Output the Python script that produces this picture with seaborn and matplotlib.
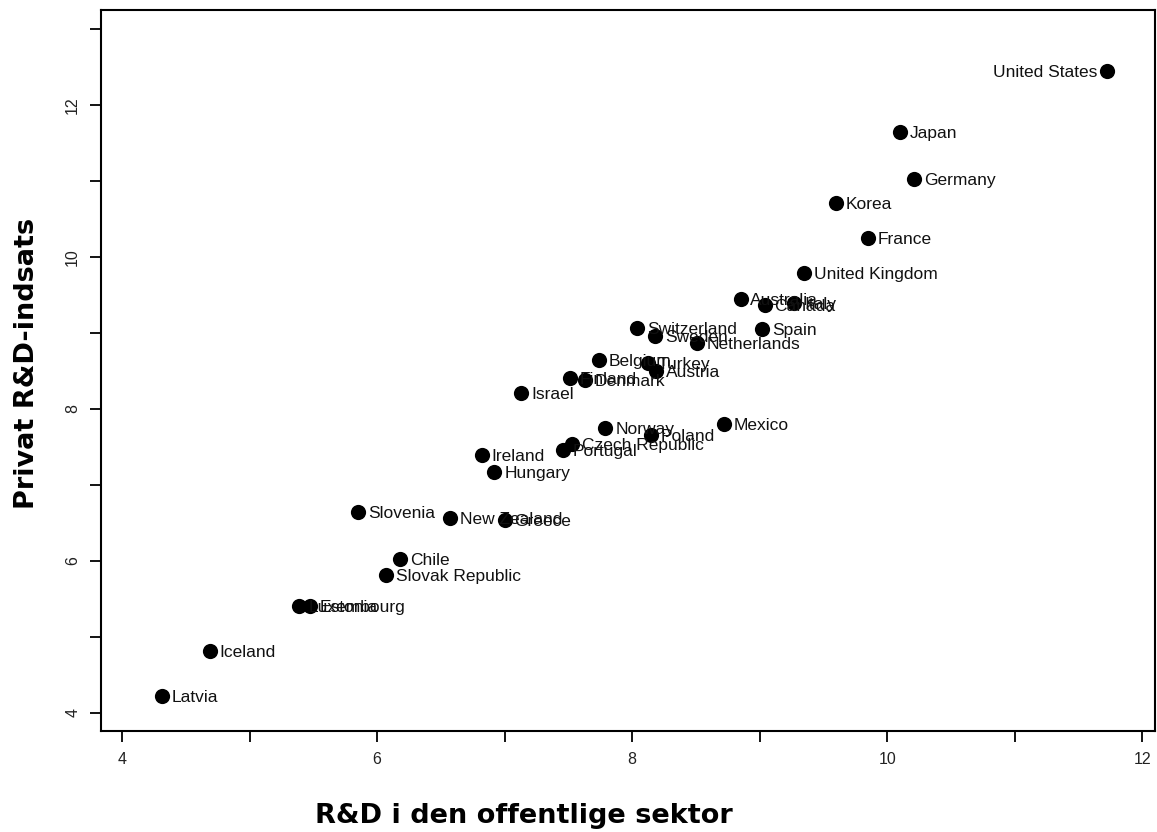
import pandas as pd
import matplotlib
matplotlib.use("Agg")
import matplotlib.pyplot as plt
import seaborn as sns

# Country data: public R&D (x) vs private R&D effort (y)
countries = ["United States", "Japan", "Germany", "Korea", "France", "United Kingdom",
             "Australia", "Canada", "Italy", "Switzerland", "Sweden", "Spain",
             "Netherlands", "Belgium", "Turkey", "Austria", "Finland", "Denmark",
             "Israel", "Norway", "Poland", "Mexico", "Czech Republic", "Portugal",
             "Ireland", "Hungary", "Slovenia", "New Zealand", "Greece", "Chile",
             "Slovak Republic", "Estonia", "Luxembourg", "Iceland", "Latvia"]
public_rd = [11.72, 10.10, 10.21, 9.60, 9.85, 9.35,
             8.85, 9.04, 9.27, 8.04, 8.18, 9.02,
             8.51, 7.74, 8.12, 8.19, 7.51, 7.63,
             7.13, 7.79, 8.15, 8.72, 7.53, 7.46,
             6.82, 6.92, 5.85, 6.57, 7.00, 6.18,
             6.07, 5.47, 5.39, 4.69, 4.31]
private_rd = [12.45, 11.64, 11.03, 10.71, 10.25, 9.79,
              9.45, 9.37, 9.39, 9.07, 8.96, 9.05,
              8.87, 8.64, 8.60, 8.50, 8.41, 8.38,
              8.21, 7.75, 7.66, 7.80, 7.54, 7.46,
              7.39, 7.17, 6.64, 6.57, 6.54, 6.03,
              5.82, 5.41, 5.41, 4.82, 4.22]

x_ticks = [4, 5, 6, 7, 8, 9, 10, 11, 12]
x_tick_labels = ["4", "", "6", "", "8", "", "10", "", "12"]
y_ticks = [4, 5, 6, 7, 8, 9, 10, 11, 12, 13]
y_tick_labels = ["4", "", "6", "", "8", "", "10", "", "12", ""]

df = pd.DataFrame({"country": countries, "public": public_rd, "private": private_rd})

sns.set_style("white")
plt.rcParams["font.family"] = ["Liberation Sans", "DejaVu Sans"]
plt.rcParams["text.color"] = "black"
plt.rcParams["xtick.color"] = "black"
plt.rcParams["ytick.color"] = "black"

fig = plt.figure(figsize=(11.57, 8.32), dpi=100)
ax = fig.add_axes([0.0873, 0.1214, 0.9107, 0.8666])

sns.scatterplot(data=df, x="public", y="private", color="black", s=120,
                edgecolor="black", linewidth=0, ax=ax, zorder=3)

# country labels to the right of each dot (United States to the left)
for name, xv, yv in zip(df["country"], df["public"], df["private"]):
    if name == "United States":
        ax.annotate(name, (xv, yv), xytext=(-7, -1), textcoords="offset points",
                    ha="right", va="center", fontsize=12.5, color="#111111")
    else:
        ax.annotate(name, (xv, yv), xytext=(7, -1), textcoords="offset points",
                    ha="left", va="center", fontsize=12.5, color="#111111")

ax.set_xlim(3.835, 12.096)
ax.set_ylim(3.763, 13.25)
ax.set_xticks(x_ticks)
ax.set_xticklabels(x_tick_labels, fontsize=11.5)
ax.set_yticks(y_ticks)
ax.set_yticklabels(y_tick_labels, fontsize=11.5, rotation=90, va="center")
ax.tick_params(axis="both", direction="out", length=8, width=1.3, color="black",
               labelcolor="#222222", pad=7, bottom=True, left=True)
for sp in ax.spines.values():
    sp.set_visible(True)
    sp.set_color("black")
    sp.set_linewidth(1.5)
ax.set_xlabel("")
ax.set_ylabel("")

fig.text(0.4525, 0.011, "R&D i den offentlige sektor", fontsize=19.5, fontweight="bold",
         family="DejaVu Sans", color="black", ha="center", va="baseline")
fig.text(0.023, 0.563, "Privat R&D-indsats", fontsize=19.5, fontweight="bold",
         family="DejaVu Sans", color="black", ha="center", va="center", rotation=90)

fig.savefig("out.png", dpi=100)
